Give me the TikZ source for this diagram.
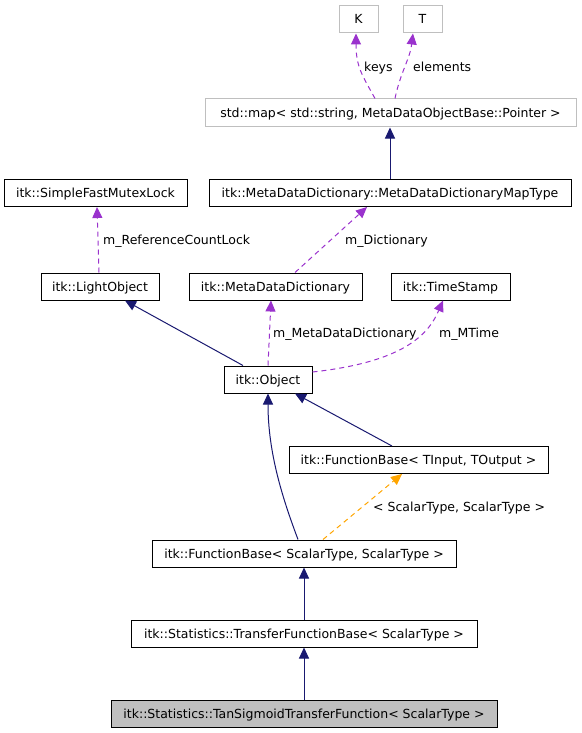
\documentclass[tikz,border=0pt]{standalone}
\usepackage{fontspec}
\setmainfont{DejaVu Sans}
\usetikzlibrary{arrows.meta}
\definecolor{inhblue}{HTML}{191970}
\definecolor{usepurple}{HTML}{9A32CD}
\definecolor{tplorange}{HTML}{FFA500}
\definecolor{extgray}{HTML}{BFBFBF}

\begin{document}
\begin{tikzpicture}[x=1pt,y=-1pt]
\fontsize{12.5pt}{15pt}\selectfont
\tikzset{
    cls/.style={draw=black, line width=1pt, fill=white, inner sep=0pt, minimum height=27pt, text height=9pt, text depth=0pt},
    ext/.style={cls, draw=extgray},
    focus/.style={cls, fill=extgray},
    inherit/.style={draw=inhblue, line width=1pt, -{Triangle[length=11pt,width=10pt]}},
    member/.style={draw=usepurple, line width=1pt, dash pattern=on 5pt off 4pt, -{Triangle[length=11pt,width=10pt]}},
    tmpl/.style={member, draw=tplorange},
    lbl/.style={anchor=west, inner sep=0pt, text height=9pt, text depth=0pt},
}
\useasboundingbox (0,0) rectangle (581,733);

% The boxes, top row first.
\node[ext, minimum width=39pt] (K) at (358.5,19.5) {K};
\node[ext, minimum width=39pt] (T) at (422.5,19.5) {T};
\node[ext, minimum width=371pt, minimum height=28pt] (stdMap) at (390.5,113) {std::map< std::string, MetaDataObjectBase::Pointer >};
\node[cls, minimum width=183pt] (mutex) at (95.5,193) {itk::SimpleFastMutexLock};
\node[cls, minimum width=362pt] (mapType) at (390,193) {itk::MetaDataDictionary::MetaDataDictionaryMapType};
\node[cls, minimum width=118pt] (lightObj) at (100,286.5) {itk::LightObject};
\node[cls, minimum width=173pt] (dict) at (275.5,286.5) {itk::MetaDataDictionary};
\node[cls, minimum width=119pt] (stamp) at (450.5,286.5) {itk::TimeStamp};
\node[cls, minimum width=88pt] (obj) at (268,379.5) {itk::Object};
\node[cls, minimum width=259pt] (fbGeneric) at (418.5,460) {itk::FunctionBase< TInput, TOutput >};
\node[cls, minimum width=304pt] (fbScalar) at (304,553.5) {itk::FunctionBase< ScalarType, ScalarType >};
\node[cls, minimum width=346pt] (transferBase) at (304,633.5) {itk::Statistics::TransferFunctionBase< ScalarType >};
\node[focus, minimum width=386pt] (tanSigmoid) at (304,713.5) {itk::Statistics::TanSigmoidTransferFunction< ScalarType >};

% Members (dashed) with their labels.
\draw[member] ([xshift=-15.5pt]stdMap.north) .. controls +(-12,-22) and +(0,34) .. ([xshift=-2.5pt]K.south);
\draw[member] ([xshift=4.5pt]stdMap.north) .. controls +(5,-25) and +(-3,25) .. ([xshift=-9.5pt]T.south);
\node[lbl] (lblKeys) at (364,67) {keys};
\node[lbl] (lblElements) at (413,67) {elements};
\draw[member] ([xshift=-1pt]lightObj.north) -- ([xshift=1.5pt]mutex.south);
\node[lbl] (lblLock) at (103,240) {m\_ReferenceCountLock};
\draw[member] ([xshift=19.5pt]dict.north) -- ([xshift=-23pt]mapType.south);
\node[lbl] (lblDictionary) at (345,240) {m\_Dictionary};
\draw[member] (obj.north) -- ([xshift=-4.5pt]dict.south);
\node[lbl] (lblMetaDict) at (273,333) {m\_MetaDataDictionary};
\draw[member] ([yshift=7.5pt]obj.east) .. controls +(90,-10) and +(-15,35) .. ([xshift=-7.5pt]stamp.south);
\node[lbl] (lblMTime) at (439,333) {m\_MTime};
\draw[tmpl] ([xshift=19pt]fbScalar.north) -- ([xshift=-16.5pt]fbGeneric.south);
\node[lbl] (lblArgs) at (373,507) {< ScalarType, ScalarType >};

% Inheritance (solid) last.
\draw[inherit] (mapType.north) -- (mapType.north |- stdMap.south);
\draw[inherit] ([xshift=-25pt]obj.north) -- ([xshift=25pt]lightObj.south);
\draw[inherit] ([xshift=-6pt]fbScalar.north) .. controls +(-15,-40) and +(0,60) .. (obj.south);
\draw[inherit] ([xshift=-26.5pt]fbGeneric.north) -- ([xshift=27pt]obj.south);
\draw[inherit] (transferBase.north) -- (fbScalar.south);
\draw[inherit] (tanSigmoid.north) -- (transferBase.south);
\end{tikzpicture}
\end{document}
